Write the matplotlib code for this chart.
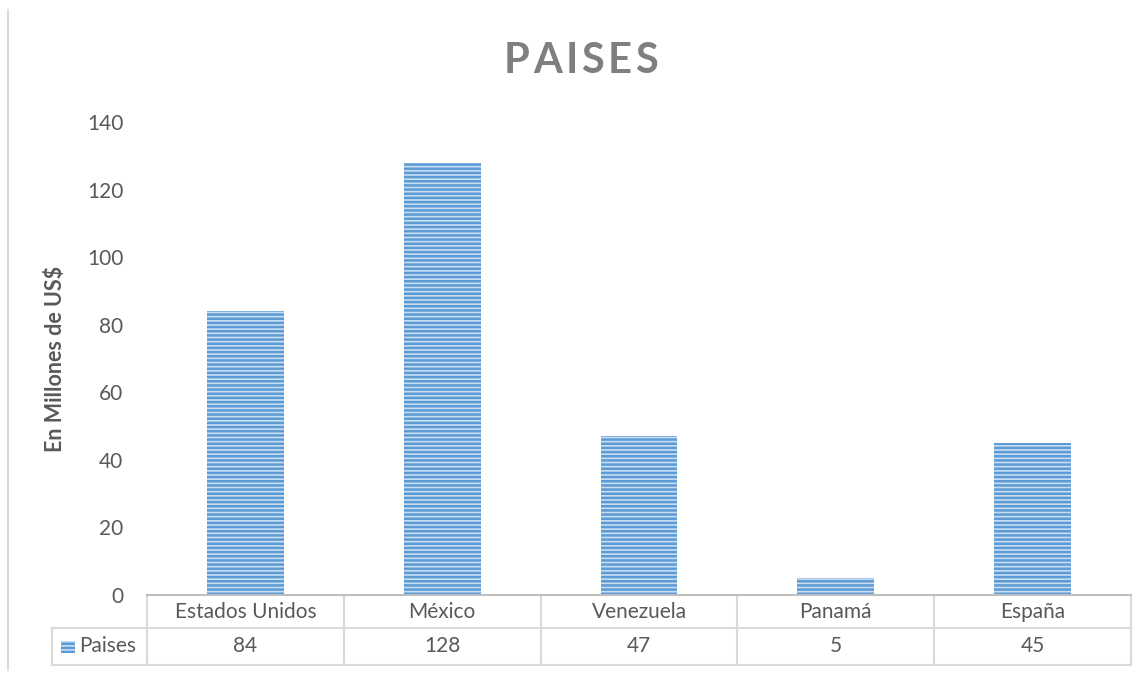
import matplotlib.pyplot as plt
from matplotlib.lines import Line2D
from matplotlib.patches import Rectangle

categories = ["Estados Unidos", "México", "Venezuela", "Panamá", "España"]
values = [84, 128, 47, 5, 45]
series_name = "Paises"
yticks = [0, 20, 40, 60, 80, 100, 120, 140]
title = "PAISES"

plt.rcParams['font.family'] = ['Lato', 'DejaVu Sans']
plt.rcParams['hatch.linewidth'] = 1.8
plt.rcParams['hatch.color'] = '#5B9BD5'

W, H = 1143, 675
fig = plt.figure(figsize=(W / 100, H / 100), dpi=100)
ax = fig.add_axes([147 / W, 1 - 595 / H, (1131 - 147) / W, (595 - 122) / H])

FS = 15
x = range(len(categories))
ax.bar(x, values, width=0.39, color='#C9DDF0', edgecolor='#5B9BD5',
       hatch='----', linewidth=0)
ax.set_xlim(-0.5, len(categories) - 0.5)
ax.set_ylim(0, 140)
ax.set_yticks(yticks)
ax.set_xticks([])
ax.tick_params(axis='y', length=0, labelsize=FS, colors='#595959', pad=17)
for s in ['top', 'right', 'left']:
    ax.spines[s].set_visible(False)
ax.spines['bottom'].set_color('#BFBFBF')
ax.spines['bottom'].set_linewidth(1.5)

ax.set_ylabel("En Millones de US$", fontsize=15.5, fontweight='bold',
              color='#595959')
ax.yaxis.set_label_coords(-81 / 984, 0.5)

# title with letter spacing: place each letter after the previous one
renderer = fig.canvas.get_renderer()
gap = 3.5
letters = []
for ch in title:
    t = fig.text(0, 1 - 61 / H, ch, ha='left', va='center',
                 fontsize=30, fontweight='bold', color='#7F7F7F')
    letters.append((t, t.get_window_extent(renderer).width))
total = sum(w for _, w in letters) + gap * (len(letters) - 1)
px = 581 - total / 2
for t, w in letters:
    t.set_x(px / W)
    px += w + gap

# data table below the axis
axh = 595 - 122
def ay(py):
    return (595 - py) / axh
def axx(px):
    return (px - 147) / 984

grid = '#D9D9D9'
kw = dict(transform=ax.transAxes, clip_on=False, color=grid, lw=1.5)
r1, r2 = ay(628), ay(665)
ax.add_line(Line2D([0, 0], [0, r2], **kw))
ax.add_line(Line2D([1, 1], [0, r2], **kw))
ax.add_line(Line2D([axx(52), 1], [r1, r1], **kw))
ax.add_line(Line2D([axx(52), 1], [r2, r2], **kw))
ax.add_line(Line2D([axx(52), axx(52)], [r1, r2], **kw))
for i in range(1, len(categories)):
    xc = i / len(categories)
    ax.add_line(Line2D([xc, xc], [0, r2], **kw))

for i, (c, v) in enumerate(zip(categories, values)):
    xc = (i + 0.5) / len(categories)
    ax.text(xc, r1 / 2, c, transform=ax.transAxes, ha='center', va='center',
            fontsize=FS, color='#595959')
    ax.text(xc, (r1 + r2) / 2, str(v), transform=ax.transAxes, ha='center',
            va='center', fontsize=FS, color='#595959')

ax.add_patch(Rectangle((axx(61), ay(653)), axx(75) - axx(61), ay(641) - ay(653),
                       transform=ax.transAxes, clip_on=False,
                       facecolor='#C9DDF0', edgecolor='#5B9BD5', hatch='----', lw=0))
ax.text(axx(79), (r1 + r2) / 2, series_name, transform=ax.transAxes,
        ha='left', va='center', fontsize=FS, color='#595959')

fig.add_artist(Line2D([8 / W, 8 / W], [1 - 10 / H, 1 - 670 / H],
                      color='#D9D9D9', lw=1.5))

fig.savefig("out.png", dpi=100)
